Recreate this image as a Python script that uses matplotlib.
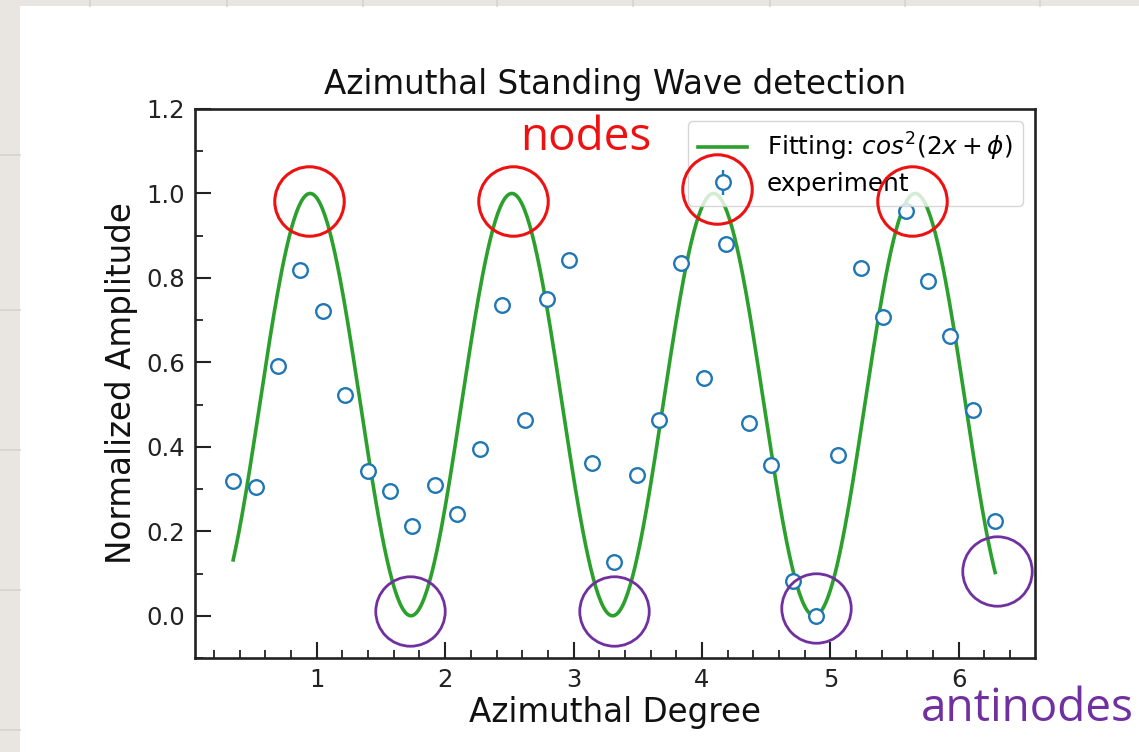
import numpy as np
import matplotlib
matplotlib.use("Agg")
import matplotlib.pyplot as plt
from matplotlib.patches import Rectangle
from matplotlib.lines import Line2D

# Measured azimuthal amplitude (angle in degrees, normalized amplitude)
angle_deg = [20, 30, 40, 50, 60, 70, 80, 90, 100, 110, 120, 130,
             140, 150, 160, 170, 180, 190, 200, 210, 220, 230, 240, 250,
             260, 270, 280, 290, 300, 310, 320, 330, 340, 350, 360]
amplitude = [0.320, 0.305, 0.592, 0.818, 0.721, 0.522, 0.343, 0.295, 0.213,
             0.309, 0.242, 0.394, 0.735, 0.464, 0.751, 0.842, 0.362, 0.127,
             0.334, 0.464, 0.836, 0.563, 0.881, 0.456, 0.357, 0.082, 0.000,
             0.381, 0.824, 0.708, 0.959, 0.793, 0.662, 0.488, 0.224]
amp_err = 0.0

# Fitted phase of cos^2(2x + phi)
fit_phase = 1.245

# Highlighted nodes / antinodes (data coordinates)
node_x = [0.940, 2.528, 4.114, 5.637]
node_y = [0.981, 0.981, 1.011, 0.983]
antinode_x = [1.723, 3.311, 4.891, 6.296]
antinode_y = [0.012, 0.012, 0.018, 0.105]

x_rad = np.deg2rad(angle_deg)
x_fit = np.linspace(x_rad[0], x_rad[-1], 600)
y_fit = np.cos(2 * x_fit + fit_phase) ** 2

W, H = 1139, 752
fig = plt.figure(figsize=(W / 100, H / 100), dpi=100)
fig.patch.set_facecolor("#e9e6e1")

# white slide panel with a faint tiled backdrop around it
panel = Rectangle((20 / W, 0), 1 - 20 / W, 1 - 6 / H,
                  transform=fig.transFigure, facecolor="white",
                  edgecolor="none", zorder=-5)
fig.add_artist(panel)
for xp in [90, 227, 363, 497, 633, 770, 905, 1040]:
    fig.add_artist(Line2D([xp / W, xp / W], [1 - 6 / H, 1],
                          transform=fig.transFigure, color="#d6d2cc",
                          lw=1.2, zorder=-4))
for yp in [155, 310, 450, 590, 730]:
    fig.add_artist(Line2D([0, 20 / W], [1 - yp / H, 1 - yp / H],
                          transform=fig.transFigure, color="#d6d2cc",
                          lw=1.2, zorder=-4))

ax = fig.add_axes([195 / W, 1 - 658 / H, (1035 - 195) / W, (658 - 109) / H])
ax.set_zorder(1)
ax.set_facecolor("white")

ax.plot(x_fit, y_fit, color="#2ca02c", lw=2.6,
        label=r"Fitting: $cos^2(2x + \phi)$", zorder=2)
ax.errorbar(x_rad, amplitude, yerr=amp_err, fmt="o", ms=10.5, mew=1.7,
            mfc="white", mec="#1f77b4", ecolor="#1f77b4", elinewidth=1.7,
            label="experiment", zorder=3)

ax.set_ylim(-0.1, 1.2)
ax.set_xticks([1, 2, 3, 4, 5, 6])
ax.set_yticks([0.0, 0.2, 0.4, 0.6, 0.8, 1.0, 1.2])
ax.set_xticks(np.arange(0.2, 6.6, 0.2), minor=True)
ax.set_yticks(np.arange(-0.1, 1.2, 0.1), minor=True)
ax.yaxis.set_major_formatter(matplotlib.ticker.FormatStrFormatter("%.1f"))

ax.tick_params(which="both", direction="in", top=False, right=False,
               colors="#222222", labelcolor="#222222")
ax.tick_params(which="major", length=11.5, width=1.5, labelsize=17.5, pad=7)
ax.tick_params(which="minor", length=5.8, width=1.3)
for sp in ax.spines.values():
    sp.set_linewidth(1.9)
    sp.set_color("#222222")

ax.set_title("Azimuthal Standing Wave detection", fontsize=23.5, pad=11,
             color="#111111")
ax.set_xlabel("Azimuthal Degree", fontsize=23.5, color="#111111", labelpad=3)
ax.set_ylabel("Normalized Amplitude", fontsize=23.5, color="#111111",
              labelpad=6)

leg = ax.legend(loc="upper right", fontsize=17.8, framealpha=0.8,
                handlelength=2.0, borderaxespad=0.5, labelspacing=0.35)
leg.set_zorder(5)

# node / antinode markers
ax.plot(node_x, node_y, "o", ms=50, mfc="none", mec="#ee1111", mew=2.2,
        zorder=10, clip_on=False)
ax.plot(antinode_x, antinode_y, "o", ms=50, mfc="none", mec="#7030a0",
        mew=2.0, zorder=10, clip_on=False)

fig.text(586 / W, 1 - 138 / H, "nodes", color="#ee1111", fontsize=33,
         family="Open Sans", ha="center", va="center", zorder=6)
fig.text(1027 / W, 1 - 709 / H, "antinodes", color="#7030a0", fontsize=33,
         family="Open Sans", ha="center", va="center", zorder=6)

fig.savefig("out.png", dpi=100, facecolor=fig.get_facecolor())
